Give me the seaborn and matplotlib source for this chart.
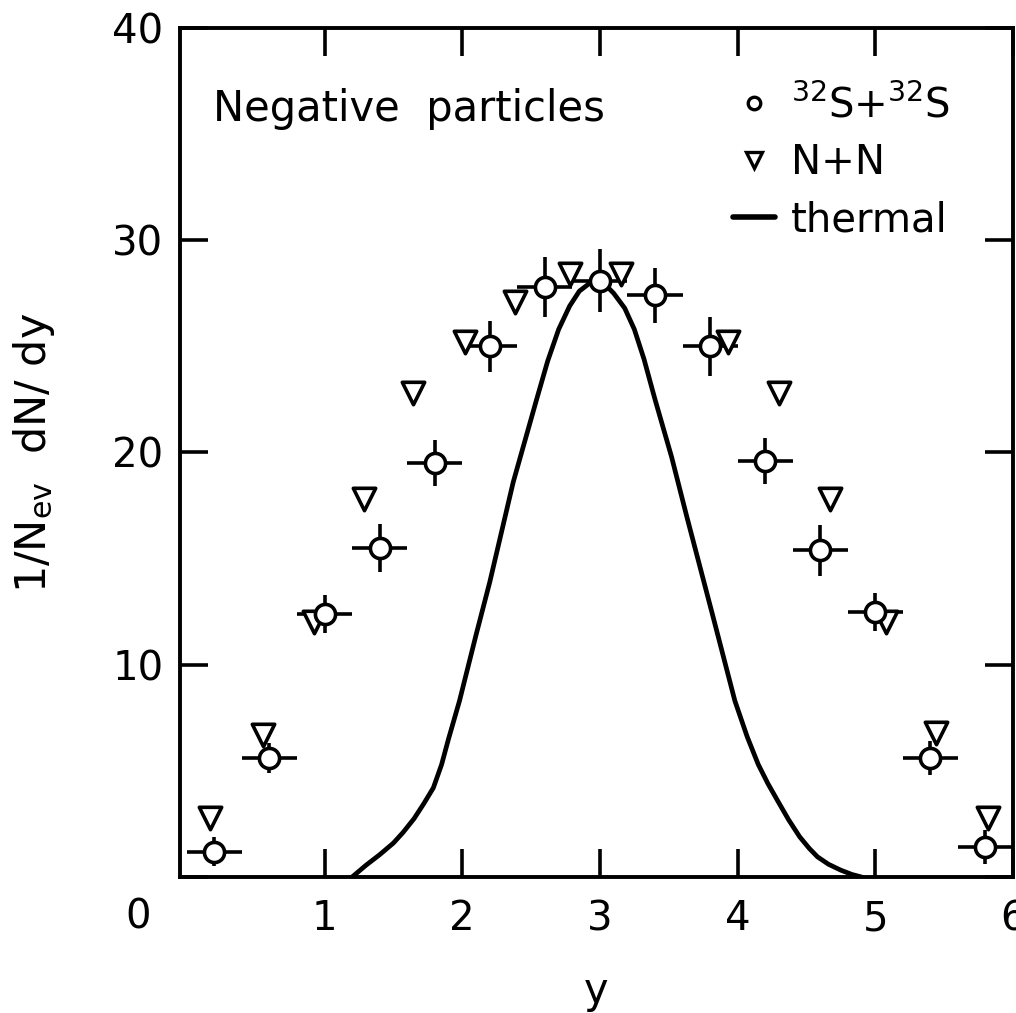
import matplotlib
matplotlib.use("Agg")
import matplotlib.pyplot as plt
import seaborn as sns
import pandas as pd
from matplotlib.lines import Line2D

# --- data -------------------------------------------------------------
ss_y = [0.2, 0.6, 1.0, 1.4, 1.8, 2.2, 2.6, 3.0, 3.4, 3.8, 4.2, 4.6, 5.0, 5.4, 5.8]
ss_val = [1.2, 5.6, 12.4, 15.5, 19.5, 25.0, 27.8, 28.1, 27.4, 25.0, 19.6, 15.4, 12.5, 5.6, 1.4]
ss_yerr = [0.7, 0.7, 0.9, 1.15, 1.1, 1.2, 1.4, 1.5, 1.3, 1.4, 1.1, 1.2, 0.9, 0.8, 0.8]
ss_xerr = [0.2] * 15

nn_y = [0.17, 0.55, 0.92, 1.29, 1.64, 2.02, 2.38, 2.78, 3.15, 3.93, 4.30, 4.67, 5.08, 5.44, 5.82]
nn_val = [2.8, 6.7, 12.0, 17.8, 22.8, 25.2, 27.1, 28.4, 28.4, 25.2, 22.8, 17.8, 12.0, 6.8, 2.8]

th_y = [1.20, 1.30, 1.40, 1.50, 1.57, 1.65, 1.72, 1.79, 1.85, 1.90, 1.98, 2.10, 2.20,
        2.37, 2.54, 2.62, 2.70, 2.78, 2.85, 2.92, 2.98, 3.04, 3.10, 3.18, 3.25,
        3.32, 3.40, 3.52, 3.63, 3.82, 3.98, 4.07, 4.15, 4.22, 4.29, 4.37, 4.45,
        4.52, 4.58, 4.66, 4.75, 4.83, 4.90]
th_val = [0.0, 0.55, 1.05, 1.6, 2.1, 2.75, 3.45, 4.2, 5.3, 6.5, 8.3, 11.4, 13.9,
          18.6, 22.5, 24.3, 25.8, 26.9, 27.6, 27.95, 28.0, 27.9, 27.5, 26.8, 25.8,
          24.4, 22.5, 19.8, 17.0, 12.3, 8.3, 6.6, 5.3, 4.4, 3.6, 2.7, 1.9,
          1.35, 0.95, 0.6, 0.32, 0.12, 0.0]

xticks = [1, 2, 3, 4, 5, 6]
yticks = [0, 10, 20, 30, 40]
ytick_labels = ["", "10", "20", "30", "40"]

label_ss = r"$^{32}$S+$^{32}$S"
label_nn = "N+N"
label_th = "thermal"
title_txt = "Negative  particles"

# --- style ------------------------------------------------------------
sns.set_theme(style="ticks")
plt.rcParams["font.family"] = ["DejaVu Sans"]
plt.rcParams["mathtext.fontset"] = "dejavusans"
plt.rcParams["text.color"] = "black"
plt.rcParams["axes.labelcolor"] = "black"
plt.rcParams["xtick.color"] = "black"
plt.rcParams["ytick.color"] = "black"

fig = plt.figure(figsize=(10.16, 10.13), dpi=100)
ax = fig.add_axes([180 / 1016, 1 - 877 / 1013, (1013 - 180) / 1016, (877 - 28) / 1013])

df_ss = pd.DataFrame({"y": ss_y, "v": ss_val})
df_nn = pd.DataFrame({"y": nn_y, "v": nn_val})
df_th = pd.DataFrame({"y": th_y, "v": th_val})

lw = 2.6
ax.errorbar(ss_y, ss_val, xerr=ss_xerr, yerr=ss_yerr, fmt="none",
            ecolor="black", elinewidth=lw, capsize=0, zorder=2)
sns.lineplot(data=df_th, x="y", y="v", sort=False, color="black", lw=3.4,
             ax=ax, zorder=3)
sns.scatterplot(data=df_nn, x="y", y="v", marker="v", s=260, facecolor="white",
                edgecolor="black", linewidth=2.6, ax=ax, zorder=4)
sns.scatterplot(data=df_ss, x="y", y="v", marker="o", s=210, facecolor="white",
                edgecolor="black", linewidth=2.6, ax=ax, zorder=5)

ax.set_xlim(-0.05, 6.0)
ax.set_ylim(0, 40)
ax.set_xticks(xticks)
ax.set_xticklabels([str(t) for t in xticks])
ax.set_yticks(yticks)
ax.set_yticklabels(ytick_labels)
ax.tick_params(direction="in", length=20, width=2.6, labelsize=29,
               top=True, right=True, pad=12, color="black", labelcolor="black")
ax.tick_params(axis="x", pad=16)
for sp in ax.spines.values():
    sp.set_linewidth(2.8)
    sp.set_color("black")

ax.set_xlabel("y", fontsize=30, labelpad=22)
ax.set_ylabel(r"1/N$_{\rm ev}$  dN/ dy", fontsize=31, labelpad=40)

ax.annotate("0", xy=(0, 0), xycoords="axes fraction", xytext=(-30, -29),
            textcoords="offset points", fontsize=29, ha="center", va="center")

ax.text(0.04, 0.905, title_txt, transform=ax.transAxes, fontsize=30,
        ha="left", va="center")

handles = [
    Line2D([], [], marker="o", ls="none", markersize=9, markerfacecolor="white",
           markeredgecolor="black", markeredgewidth=2.4),
    Line2D([], [], marker="v", ls="none", markersize=12, markerfacecolor="white",
           markeredgecolor="black", markeredgewidth=2.4),
    Line2D([], [], color="black", lw=4),
]
ax.legend(handles, [label_ss, label_nn, label_th], loc="upper left",
          bbox_to_anchor=(0.62, 0.975), frameon=False, fontsize=29,
          handlelength=1.05, handletextpad=0.4, labelspacing=0.42)

fig.savefig("out.png", dpi=100)
